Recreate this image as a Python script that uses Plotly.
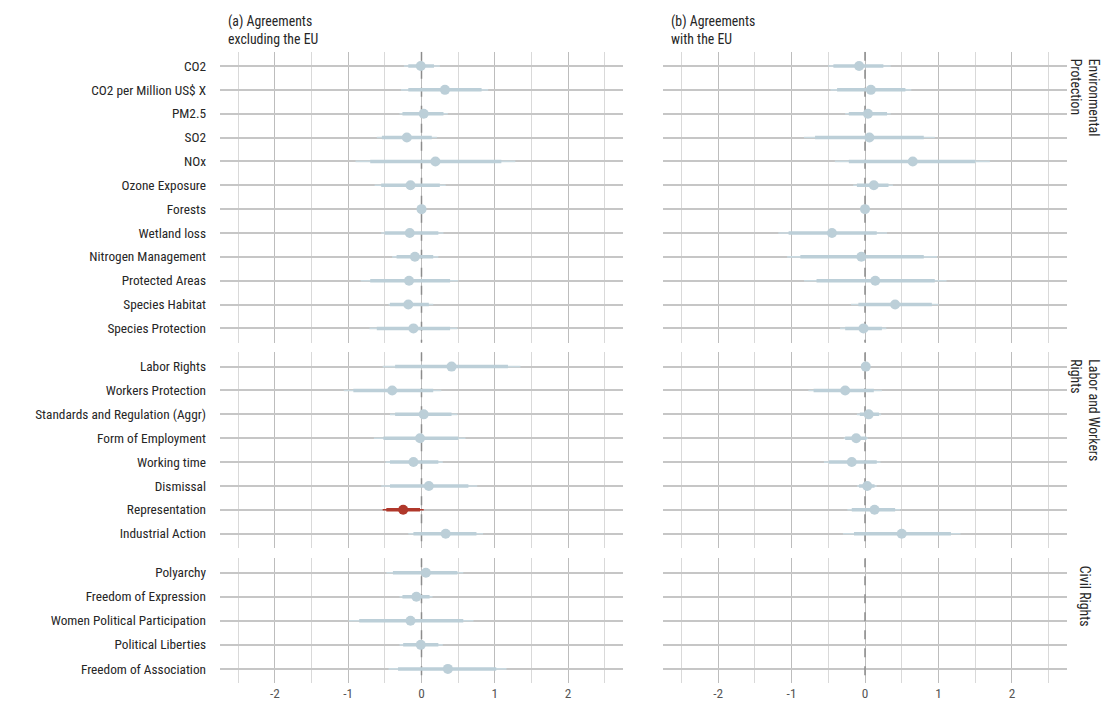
import plotly.graph_objects as go

# ---------------- data ----------------
env_items = ["CO2", "CO2 per Million US$ X", "PM2.5", "SO2", "NOx", "Ozone Exposure",
             "Forests", "Wetland loss", "Nitrogen Management", "Protected Areas",
             "Species Habitat", "Species Protection"]
labor_items = ["Labor Rights", "Workers Protection", "Standards and Regulation (Aggr)",
               "Form of Employment", "Working time", "Dismissal", "Representation",
               "Industrial Action"]
civil_items = ["Polyarchy", "Freedom of Expression", "Women Political Participation",
               "Political Liberties", "Freedom of Association"]

group_labels = ["Environmental<br>Protection", "Labor and Workers<br>Rights", "Civil Rights"]
panel_titles = ["(a) Agreements<br>excluding the EU", "(b) Agreements<br>with the EU"]
x_ticks = [-2, -1, 0, 1, 2]

# (a) agreements excluding the EU
a_env_est   = [-0.01, 0.32, 0.03, -0.20, 0.19, -0.15, 0.00, -0.16, -0.09, -0.17, -0.18, -0.11]
a_env_lo95  = [-0.24, -0.28, -0.30, -0.61, -0.90, -0.64, -0.02, -0.55, -0.40, -0.83, -0.45, -0.71]
a_env_hi95  = [0.25, 0.91, 0.36, 0.21, 1.28, 0.33, 0.02, 0.30, 0.23, 0.50, 0.16, 0.49]
a_env_lo90  = [-0.18, -0.18, -0.26, -0.54, -0.70, -0.55, -0.01, -0.50, -0.34, -0.70, -0.43, -0.61]
a_env_hi90  = [0.17, 0.82, 0.30, 0.14, 1.09, 0.25, 0.01, 0.23, 0.16, 0.39, 0.10, 0.39]

a_lab_est   = [0.41, -0.40, 0.03, -0.02, -0.11, 0.10, -0.25, 0.33]
a_lab_lo95  = [-0.53, -1.06, -0.43, -0.65, -0.49, -0.55, -0.53, -0.18]
a_lab_hi95  = [1.35, 0.27, 0.49, 0.60, 0.29, 0.76, 0.03, 0.84]
a_lab_lo90  = [-0.36, -0.93, -0.36, -0.52, -0.43, -0.43, -0.48, -0.11]
a_lab_hi90  = [1.18, 0.16, 0.41, 0.50, 0.23, 0.64, -0.02, 0.75]

a_civ_est   = [0.06, -0.07, -0.15, -0.01, 0.36]
a_civ_lo95  = [-0.48, -0.30, -0.99, -0.30, -0.45]
a_civ_hi95  = [0.57, 0.15, 0.71, 0.29, 1.16]
a_civ_lo90  = [-0.39, -0.26, -0.85, -0.25, -0.32]
a_civ_hi90  = [0.49, 0.11, 0.57, 0.23, 1.02]

# (b) agreements with the EU
b_env_est   = [-0.08, 0.08, 0.04, 0.06, 0.65, 0.12, 0.00, -0.45, -0.05, 0.14, 0.41, -0.02]
b_env_lo95  = [-0.50, -0.47, -0.27, -0.83, -0.41, -0.16, -0.02, -1.18, -1.06, -0.83, -0.19, -0.34]
b_env_hi95  = [0.35, 0.63, 0.35, 0.95, 1.70, 0.38, 0.02, 0.30, 0.98, 1.11, 1.00, 0.29]
b_env_lo90  = [-0.43, -0.38, -0.22, -0.68, -0.22, -0.11, -0.01, -1.04, -0.88, -0.66, -0.09, -0.27]
b_env_hi90  = [0.25, 0.55, 0.30, 0.80, 1.50, 0.32, 0.01, 0.16, 0.80, 0.95, 0.91, 0.23]

b_lab_est   = [0.01, -0.27, 0.05, -0.12, -0.18, 0.03, 0.13, 0.50]
b_lab_lo95  = [-0.02, -0.77, -0.11, -0.29, -0.56, -0.11, -0.24, -0.30]
b_lab_hi95  = [0.04, 0.23, 0.22, 0.04, 0.21, 0.16, 0.48, 1.30]
b_lab_lo90  = [-0.01, -0.70, -0.07, -0.27, -0.49, -0.08, -0.18, -0.15]
b_lab_hi90  = [0.03, 0.12, 0.19, 0.02, 0.16, 0.13, 0.41, 1.17]

b_civ_est, b_civ_lo95, b_civ_hi95, b_civ_lo90, b_civ_hi90 = [], [], [], [], []

# significant estimates highlighted in red: (panel, item)
highlight = [("a", "Representation")]

# ---------------- styling ----------------
FONT = "Liberation Sans Narrow, Roboto Condensed, Arial Narrow, sans-serif"
FS = 13.3
BLUE = "#bccfd8"
BLUE_THIN = "#c9d9e0"
RED = "#b0382b"
W, H = 1105, 706
PAD = 0.6  # discrete axis expansion (category units)

groups = [env_items, labor_items, civil_items]
data = {
    "a": [(a_env_est, a_env_lo95, a_env_hi95, a_env_lo90, a_env_hi90),
          (a_lab_est, a_lab_lo95, a_lab_hi95, a_lab_lo90, a_lab_hi90),
          (a_civ_est, a_civ_lo95, a_civ_hi95, a_civ_lo90, a_civ_hi90)],
    "b": [(b_env_est, b_env_lo95, b_env_hi95, b_env_lo90, b_env_hi90),
          (b_lab_est, b_lab_lo95, b_lab_hi95, b_lab_lo90, b_lab_hi90),
          (b_civ_est, b_civ_lo95, b_civ_hi95, b_civ_lo90, b_civ_hi90)],
}

# panel geometry in pixels
col_px = [(220, 623), (663, 1067)]
row_px = [(51.7, 342.7), (352.3, 548.0), (558.3, 683.3)]

fig = go.Figure()
layout = {}
shapes = []

def seg(lo, hi, cats):
    xs, ys = [], []
    for l, h, c in zip(lo, hi, cats):
        xs += [l, h, None]
        ys += [c, c, None]
    return xs, ys

for r, items in enumerate(groups):
    for c, panel in enumerate(["a", "b"]):
        k = r * 2 + c + 1
        sfx = "" if k == 1 else str(k)
        xa, ya = f"x{sfx}", f"y{sfx}"
        est, lo95, hi95, lo90, hi90 = data[panel][r]
        cats = items[:len(est)]
        for is_red in (False, True):
            idx = [i for i in range(len(est)) if ((panel, cats[i]) in highlight) == is_red]
            if not idx:
                continue
            col_main = RED if is_red else BLUE
            col_thin = RED if is_red else BLUE_THIN
            ccat = [cats[i] for i in idx]
            x1, y1 = seg([lo95[i] for i in idx], [hi95[i] for i in idx], ccat)
            fig.add_trace(go.Scatter(x=x1, y=y1, mode="lines", xaxis=xa, yaxis=ya,
                                     line=dict(color=col_thin, width=1.6),
                                     showlegend=False, hoverinfo="skip"))
            x2, y2 = seg([lo90[i] for i in idx], [hi90[i] for i in idx], ccat)
            fig.add_trace(go.Scatter(x=x2, y=y2, mode="lines", xaxis=xa, yaxis=ya,
                                     line=dict(color=col_main, width=3.5),
                                     showlegend=False, hoverinfo="skip"))
            fig.add_trace(go.Scatter(x=[est[i] for i in idx], y=ccat, mode="markers",
                                     xaxis=xa, yaxis=ya,
                                     marker=dict(color=col_main, size=10, line=dict(width=0)),
                                     showlegend=False))
        x0p, x1p = col_px[c]
        y0p, y1p = row_px[r]
        n = len(items)
        layout[f"xaxis{sfx}"] = dict(
            domain=[x0p / W, x1p / W], anchor=ya, range=[-2.75, 2.75],
            tickvals=x_ticks, ticktext=[str(t) for t in x_ticks],
            showticklabels=(r == 2), showgrid=True, gridcolor="#bdbdbd", gridwidth=1.4,
            minor=dict(dtick=0.5, tick0=0.5, showgrid=True, gridcolor="#d9d9d9", gridwidth=1.4),
            zeroline=False, showline=False, ticks="",
            tickfont=dict(family=FONT, size=FS, color="#555555"),
        )
        layout[f"yaxis{sfx}"] = dict(
            domain=[1 - y1p / H, 1 - y0p / H], anchor=xa, type="category",
            categoryorder="array", categoryarray=items, range=[n - 1 + PAD, -PAD],
            showticklabels=(c == 0), showgrid=True, gridcolor="#c6c6c6", gridwidth=1.5,
            zeroline=False, showline=False, ticks="", ticklabelstandoff=13,
            tickfont=dict(family=FONT, size=FS, color="#262626"),
        )
        shapes.append(dict(type="line", xref=xa, yref=ya, x0=0, x1=0, y0=-PAD, y1=n - 1 + PAD,
                           layer="between", line=dict(color="#8c8c8c", width=1.5, dash="dash")))

annotations = []
for c, t in enumerate(panel_titles):
    annotations.append(dict(text=t, x=(col_px[c][0] + 6) / W, y=1 - 11 / H, xref="paper", yref="paper",
                            xanchor="left", yanchor="top", align="left", showarrow=False,
                            font=dict(family=FONT, size=13.8, color="#262626")))
for r, g in enumerate(group_labels):
    annotations.append(dict(text=g, x=1085 / W, y=1 - (row_px[r][0] + 5) / H, xref="paper", yref="paper",
                            xanchor="center", yanchor="top", align="left", textangle=90,
                            showarrow=False, font=dict(family=FONT, size=13.8, color="#262626")))

fig.update_layout(width=W, height=H, margin=dict(l=0, r=0, t=0, b=0),
                  paper_bgcolor="white", plot_bgcolor="white",
                  shapes=shapes, annotations=annotations, showlegend=False,
                  font=dict(family=FONT, size=FS, color="#262626"), **layout)

fig.write_html("out.html")
